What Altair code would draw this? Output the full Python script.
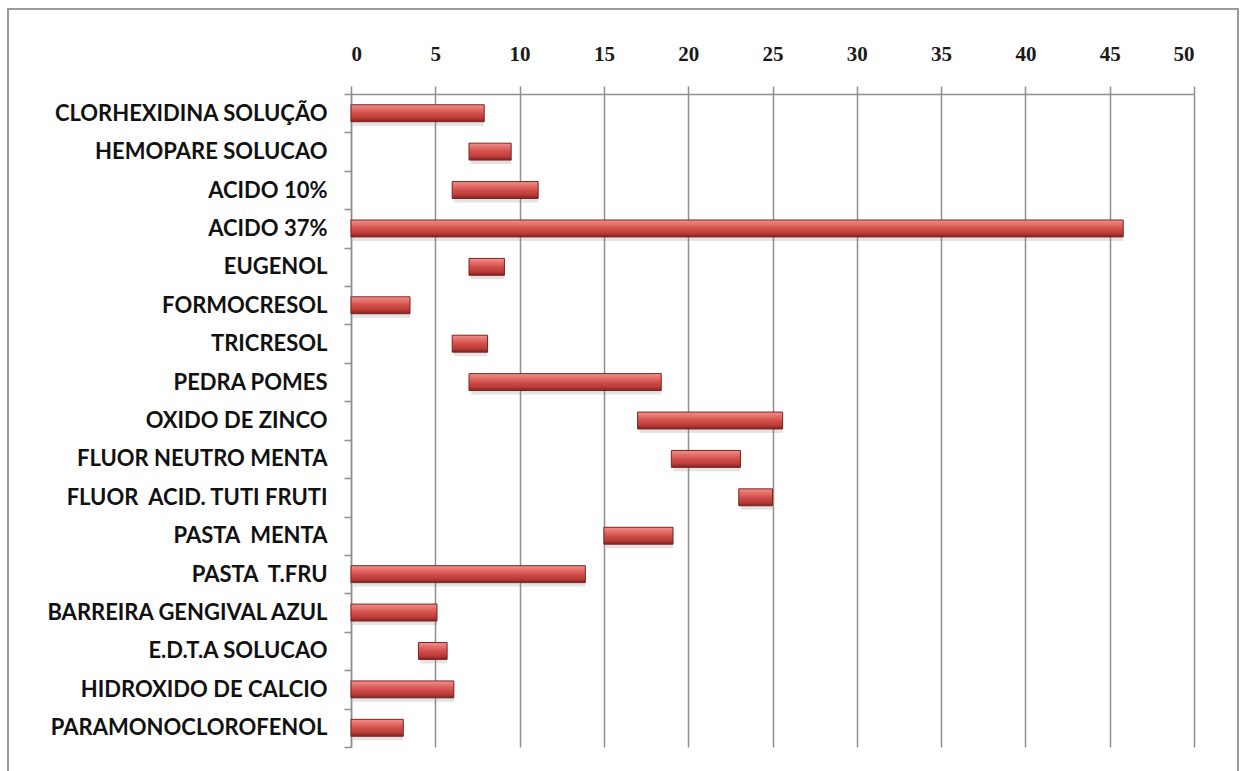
import altair as alt
import pandas as pd

# Product names, top to bottom
produtos = [
    "CLORHEXIDINA SOLUÇÃO",
    "HEMOPARE SOLUCAO",
    "ACIDO 10%",
    "ACIDO 37%",
    "EUGENOL",
    "FORMOCRESOL",
    "TRICRESOL",
    "PEDRA POMES",
    "OXIDO DE ZINCO",
    "FLUOR NEUTRO MENTA",
    "FLUOR\u00a0 ACID. TUTI FRUTI",
    "PASTA\u00a0 MENTA",
    "PASTA\u00a0 T.FRU",
    "BARREIRA GENGIVAL AZUL",
    "E.D.T.A SOLUCAO",
    "HIDROXIDO DE CALCIO",
    "PARAMONOCLOROFENOL",
]

# Start and end of each floating bar
inicio = [0, 7, 6, 0, 7, 0, 6, 7, 17, 19, 23, 15, 0, 0, 4, 0, 0]
fim = [7.9, 9.5, 11.1, 45.8, 9.1, 3.5, 8.1, 18.4, 25.6, 23.1, 25.0, 19.1, 13.9, 5.1, 5.7, 6.1, 3.1]

ticks_x = [0, 5, 10, 15, 20, 25, 30, 35, 40, 45, 50]

df = pd.DataFrame({"produto": produtos, "inicio": inicio, "fim": fim})

W, H = 843, 653
GRID = "#8f8f8f"

x_enc = alt.X(
    "inicio:Q",
    scale=alt.Scale(domain=[0, 50], nice=False, zero=True),
    axis=alt.Axis(
        orient="top",
        values=ticks_x,
        title=None,
        grid=True,
        gridColor=GRID,
        gridWidth=1.5,
        domainColor=GRID,
        domainWidth=1.5,
        tickColor=GRID,
        tickWidth=1.5,
        tickSize=8,
        labelFont="Liberation Serif",
        labelFontSize=21,
        labelFontWeight="bold",
        labelColor="#1a1a1a",
        labelPadding=22,
    ),
)

y_enc = alt.Y(
    "produto:N",
    sort=None,
    scale=alt.Scale(paddingInner=0, paddingOuter=0),
    axis=alt.Axis(
        title=None,
        grid=False,
        tickBand="extent",
        domainColor=GRID,
        domainWidth=1.5,
        tickColor=GRID,
        tickWidth=1.5,
        tickSize=7,
        labelFont="Lato",
        labelFontSize=22,
        labelFontWeight="bold",
        labelColor="#111111",
        labelPadding=17,
        labelLimit=400,
    ),
)

BAR_H = alt.RelativeBandSize(0.44)

# soft drop shadow under each bar
sombra = alt.Chart(df).mark_bar(
    color="#7f7f7f", opacity=0.22, xOffset=2, yOffset=4, height=BAR_H
).encode(x=x_enc, x2="fim:Q", y=y_enc)

# bevelled red bars
barras = alt.Chart(df).mark_bar(
    fill=alt.Gradient(
        gradient="linear",
        x1=0, x2=0, y1=0, y2=1,
        stops=[
            alt.GradientStop(color="#ee948f", offset=0),
            alt.GradientStop(color="#e6726d", offset=0.22),
            alt.GradientStop(color="#d24f4a", offset=0.5),
            alt.GradientStop(color="#bd3c38", offset=0.78),
            alt.GradientStop(color="#7e2422", offset=1),
        ],
    ),
    stroke="#7a2321",
    strokeWidth=1,
    height=BAR_H,
).encode(x=x_enc, x2="fim:Q", y=y_enc)

# outer frame around the whole figure
moldura = alt.Chart(df).mark_rect(
    fill=None, stroke="#9a9a9a", strokeWidth=2
).encode(
    x=alt.value(8 - 351),
    x2=alt.value(1238 - 351),
    y=alt.value(9 - 94),
    y2=alt.value(800 - 94),
)

chart = (
    alt.layer(moldura, sombra, barras)
    .properties(
        width=W,
        height=H,
        autosize=alt.AutoSizeParams(type="none"),
        padding={"left": 351, "top": 94, "right": 1240 - 351 - W, "bottom": 771 - 94 - H},
        background="white",
    )
    .configure_view(stroke=None)
)

chart.save("out.html", embed_options={"renderer": "svg", "actions": False})
